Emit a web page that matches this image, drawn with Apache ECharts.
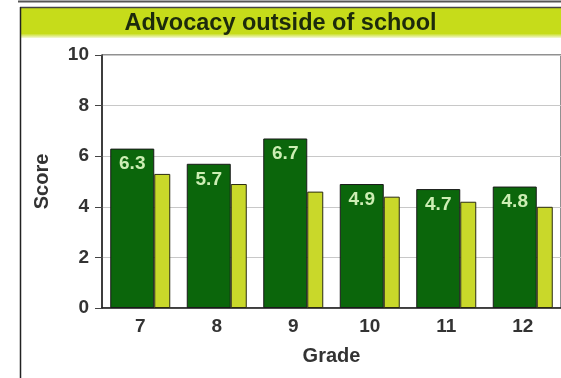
<!DOCTYPE html>
<html>
<head>
<meta charset="utf-8">
<script src="https://cdn.jsdelivr.net/npm/echarts@6/dist/echarts.min.js"></script>
<style>
  html, body { margin: 0; padding: 0; background: #ffffff; }
  #chart { width: 561px; height: 378px; }
</style>
</head>
<body>
<div id="chart"></div>
<script>
// Grades on the horizontal axis
const grades = ['7', '8', '9', '10', '11', '12'];
// School scores (labelled dark bars)
const schoolScores = [6.3, 5.7, 6.7, 4.9, 4.7, 4.8];
// Comparison scores (narrow yellow-green bars)
const comparisonScores = [5.3, 4.9, 4.6, 4.4, 4.2, 4.0];
// Score axis ticks
const scoreTicks = { min: 0, max: 10, step: 2 };

const FONT = '"Liberation Sans", Arial, Helvetica, sans-serif';

const chart = echarts.init(document.getElementById('chart'), null, { renderer: 'canvas' });

chart.setOption({
  animation: false,
  backgroundColor: '#ffffff',
  title: {
    text: 'Advocacy outside of school',
    left: 'center',
    top: 12,
    padding: 0,
    textStyle: { fontFamily: FONT, fontSize: 23.5, fontWeight: 'bold', color: '#1c2a0c' }
  },
  graphic: [
    // thin rule across the very top
    { type: 'line', z: 0, shape: { x1: 18, y1: 1.5, x2: 561, y2: 1.5 }, style: { stroke: '#555555', lineWidth: 2 } },
    // title band
    {
      type: 'rect', z: -1,
      shape: { x: 21, y: 8, width: 540, height: 30 },
      style: {
        fill: new echarts.graphic.LinearGradient(0, 0, 0, 1, [
          { offset: 0, color: '#c6dc1a' },
          { offset: 0.85, color: '#c6dc1a' },
          { offset: 1, color: '#f4f8d8' }
        ])
      }
    },
    // outer frame: top and left edges
    { type: 'line', z: 0, shape: { x1: 20, y1: 7.5, x2: 561, y2: 7.5 }, style: { stroke: '#444444', lineWidth: 1.5 } },
    { type: 'line', z: 0, shape: { x1: 20.5, y1: 7, x2: 20.5, y2: 378 }, style: { stroke: '#222222', lineWidth: 1.5 } }
  ],
  grid: {
    left: 102,
    top: 55,
    width: 464,
    height: 253,
    show: true,
    borderColor: '#222222',
    borderWidth: 1,
    containLabel: false
  },
  xAxis: {
    type: 'category',
    data: grades,
    name: 'Grade',
    nameLocation: 'middle',
    nameGap: 38,
    nameTextStyle: { fontFamily: FONT, fontSize: 20, fontWeight: 'bold', color: '#333333' },
    axisLine: { show: true, lineStyle: { color: '#222222', width: 1.5 } },
    axisTick: { show: false },
    axisLabel: { margin: 9, fontFamily: FONT, fontSize: 19, fontWeight: 'bold', color: '#333333' },
    splitLine: { show: false }
  },
  yAxis: {
    type: 'value',
    min: scoreTicks.min,
    max: scoreTicks.max,
    interval: scoreTicks.step,
    name: 'Score',
    nameLocation: 'middle',
    nameGap: 50,
    nameRotate: 90,
    nameTextStyle: { fontFamily: FONT, fontSize: 20, fontWeight: 'bold', color: '#333333' },
    axisLine: { show: true, lineStyle: { color: '#222222', width: 1.5 } },
    axisTick: { show: true, inside: false, length: 7, lineStyle: { color: '#444444', width: 1 } },
    axisLabel: { margin: 13, fontFamily: FONT, fontSize: 19, fontWeight: 'bold', color: '#333333' },
    splitLine: { show: true, lineStyle: { color: '#c8c8c8', width: 1 } }
  },
  series: [
    {
      type: 'bar',
      data: schoolScores,
      barWidth: 44,
      barGap: '0%',
      itemStyle: { color: '#0b660b', borderColor: '#1a1a1a', borderWidth: 1 },
      label: {
        show: true,
        position: 'insideTop',
        distance: 6,
        formatter: (p) => p.value.toFixed(1),
        fontFamily: FONT,
        fontSize: 19,
        fontWeight: 'bold',
        color: '#cdeeb4'
      }
    },
    {
      type: 'bar',
      data: comparisonScores,
      barWidth: 16,
      barGap: '0%',
      itemStyle: { color: '#c9d82a', borderColor: '#2a2a10', borderWidth: 1 }
    }
  ]
});
</script>
</body>
</html>
